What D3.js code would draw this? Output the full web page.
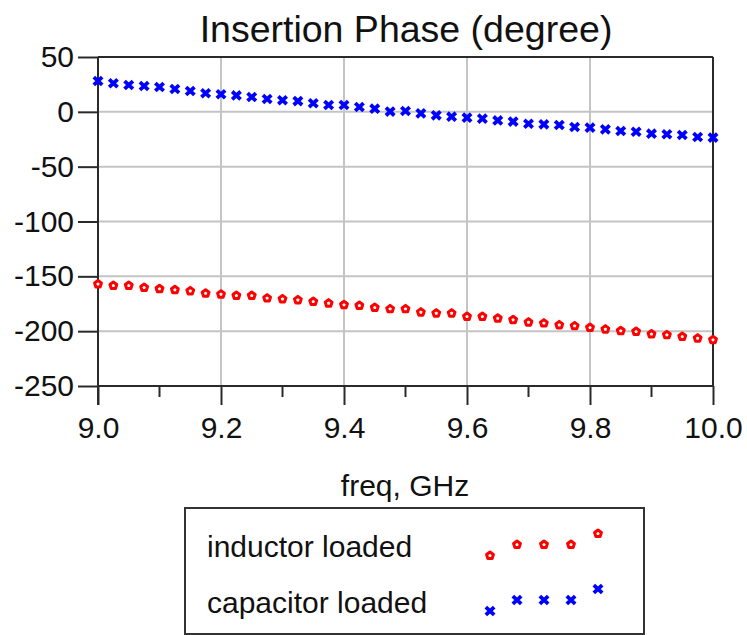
<!DOCTYPE html>
<html>
<head>
<meta charset="utf-8">
<script src="https://cdn.jsdelivr.net/npm/d3@7"></script>
<style>
  body { margin: 0; background: #fff; }
  text { font-family: "Liberation Sans", Arial, sans-serif; fill: #111; }
</style>
</head>
<body>
<svg id="chart" width="747" height="635"></svg>
<script>
// frequency sweep 9.0 .. 10.0 GHz, 41 points
const freq = d3.range(41).map(i => +(9 + i * 0.025).toFixed(3));

// phase in degrees
const inductorLoaded = [
  -156.6, -157.9, -157.9, -159.7, -160.9, -161.8, -162.8, -164.9, -165.8, -167.1,
  -167.1, -169.4, -170.1, -171.0, -172.5, -174.0, -175.5, -176.2, -178.0, -179.2,
  -179.2, -182.2, -183.1, -183.1, -186.2, -186.2, -187.7, -189.2, -191.3, -192.2,
  -193.8, -194.7, -196.2, -197.7, -199.2, -199.9, -202.2, -202.9, -204.4, -205.9,
  -207.4
];
const capacitorLoaded = [
  28.1, 26.0, 24.4, 23.5, 22.6, 20.8, 19.0, 16.9, 16.0, 15.0,
  13.5, 11.7, 10.5, 9.8, 7.8, 6.2, 6.2, 4.4, 2.9, 0.2,
  0.7, -1.4, -3.2, -4.4, -5.3, -6.2, -7.8, -8.9, -10.8, -11.4,
  -12.0, -13.9, -14.4, -16.0, -17.5, -18.1, -19.9, -20.5, -21.2, -23.0,
  -23.5
];

const xTicks = [9.0, 9.2, 9.4, 9.6, 9.8, 10.0];
const xMinorTicks = [9.1, 9.3, 9.5, 9.7, 9.9];
const yTicks = [50, 0, -50, -100, -150, -200, -250];

const title = "Insertion Phase (degree)";
const xLabel = "freq, GHz";
const seriesNames = ["inductor loaded", "capacitor loaded"];

const margin = {top: 57, right: 34, bottom: 249, left: 98};
const width = 747, height = 635;

const svg = d3.select("#chart");

const x = d3.scaleLinear().domain([9, 10]).range([margin.left, width - margin.right]);
const y = d3.scaleLinear().domain([-250, 50]).range([height - margin.bottom, margin.top]);

const gridColor = "#c4c4c4";
const axisColor = "#2a2a2a";

// grid lines
const grid = svg.append("g");
grid.selectAll("line.vgrid")
  .data(xTicks.slice(1, -1))
  .join("line")
  .attr("class", "vgrid")
  .attr("x1", d => x(d)).attr("x2", d => x(d))
  .attr("y1", y.range()[1]).attr("y2", y.range()[0])
  .attr("stroke", gridColor).attr("stroke-width", 2);

grid.selectAll("line.hgrid")
  .data(yTicks.slice(1, -1))
  .join("line")
  .attr("class", "hgrid")
  .attr("x1", x.range()[0]).attr("x2", x.range()[1])
  .attr("y1", d => y(d)).attr("y2", d => y(d))
  .attr("stroke", gridColor).attr("stroke-width", 2);

// frame: top and right edges
svg.append("line")
  .attr("x1", x.range()[0]).attr("x2", x.range()[1])
  .attr("y1", y(50)).attr("y2", y(50))
  .attr("stroke", axisColor).attr("stroke-width", 2);
svg.append("line")
  .attr("x1", x(10)).attr("x2", x(10))
  .attr("y1", y(50)).attr("y2", y(-250))
  .attr("stroke", axisColor).attr("stroke-width", 2);

// x axis with long major ticks and short minor ticks
const xAxis = svg.append("g")
  .attr("transform", "translate(0," + y(-250) + ")")
  .call(d3.axisBottom(x).tickValues(xTicks).tickFormat(d3.format(".1f"))
    .tickSize(19).tickPadding(12));
xAxis.selectAll("text").style("font-size", "30px").attr("dy", "0.71em");
xAxis.append("g")
  .selectAll("line")
  .data(xMinorTicks)
  .join("line")
  .attr("x1", d => x(d)).attr("x2", d => x(d))
  .attr("y1", 0).attr("y2", 11)
  .attr("stroke", axisColor).attr("stroke-width", 2);

// y axis, labels use a plain hyphen for the minus sign
const yAxis = svg.append("g")
  .attr("transform", "translate(" + x(9) + ",0)")
  .call(d3.axisLeft(y).tickValues(yTicks).tickFormat(d => String(d))
    .tickSize(20).tickPadding(4));
yAxis.selectAll("text").style("font-size", "30px");

svg.selectAll(".domain").attr("stroke", axisColor).attr("stroke-width", 2);
svg.selectAll(".tick line").attr("stroke", axisColor).attr("stroke-width", 2);
// x axis domain without outer caps, y domain extends down to the tick length
xAxis.select(".domain").attr("d", "M" + x(9) + ",0H" + x(10));
yAxis.select(".domain").attr("d", "M0," + y(50) + "V" + (y(-250) + 19));

// marker shapes
const xMark = "M-4.2,-3.9L4.2,3.9M4.2,-3.9L-4.2,3.9";
const pentagon = d3.line()(d3.range(5).map(i => {
  const a = -Math.PI / 2 + i * 2 * Math.PI / 5;
  return [3.6 * Math.cos(a), 3.6 * Math.sin(a) + 0.6];
})) + "Z";

function drawInductor(g) {
  g.append("path").attr("d", pentagon)
    .attr("fill", "#fff").attr("stroke", "#ff0000").attr("stroke-width", 3)
    .attr("stroke-linejoin", "round");
}
function drawCapacitor(g) {
  g.append("path").attr("d", xMark)
    .attr("fill", "none").attr("stroke", "#0000ff").attr("stroke-width", 3.8);
}

svg.append("g")
  .selectAll("g")
  .data(freq.map((f, i) => [f, inductorLoaded[i]]))
  .join("g")
  .attr("transform", d => "translate(" + x(d[0]) + "," + y(d[1]) + ")")
  .each(function() { drawInductor(d3.select(this)); });

svg.append("g")
  .selectAll("g")
  .data(freq.map((f, i) => [f, capacitorLoaded[i]]))
  .join("g")
  .attr("transform", d => "translate(" + x(d[0]) + "," + y(d[1]) + ")")
  .each(function() { drawCapacitor(d3.select(this)); });

// title and axis label
svg.append("text")
  .attr("x", 406).attr("y", 42)
  .attr("text-anchor", "middle")
  .style("font-size", "37.5px")
  .text(title);

svg.append("text")
  .attr("x", 405).attr("y", 496)
  .attr("text-anchor", "middle")
  .style("font-size", "30px")
  .text(xLabel);

// legend
const legend = svg.append("g");
legend.append("rect")
  .attr("x", 185).attr("y", 508)
  .attr("width", 459).attr("height", 126)
  .attr("fill", "none").attr("stroke", "#333").attr("stroke-width", 2);

const legendRows = [drawInductor, drawCapacitor];
const legendDrift = [11, 0, 0, 0, -11];
seriesNames.forEach((name, r) => {
  const base = 557 + r * 56;
  legend.append("text")
    .attr("x", 207).attr("y", base)
    .style("font-size", "30px")
    .text(name);
  legendDrift.forEach((dy, k) => {
    const g = legend.append("g")
      .attr("transform", "translate(" + (490 + k * 27) + "," + (base - 13 + dy) + ")");
    legendRows[r](g);
  });
});
</script>
</body>
</html>
